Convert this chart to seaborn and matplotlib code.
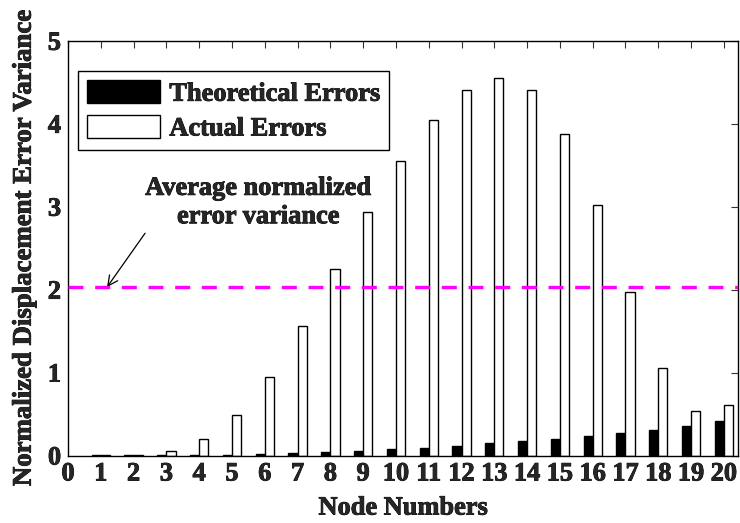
import matplotlib
matplotlib.use("Agg")
import matplotlib.pyplot as plt
import matplotlib.patheffects as pe
import seaborn as sns
import pandas as pd
from matplotlib.patches import Patch

nodes = list(range(1, 21))
theoretical = [0.002, 0.003, 0.005, 0.008, 0.01, 0.02, 0.03, 0.045, 0.06, 0.075,
               0.094, 0.12, 0.147, 0.17, 0.2, 0.23, 0.27, 0.31, 0.36, 0.42]
actual = [0.01, 0.01, 0.06, 0.2, 0.49, 0.95, 1.56, 2.25, 2.93, 3.55,
          4.05, 4.41, 4.55, 4.41, 3.88, 3.02, 1.97, 1.05, 0.54, 0.61]
avg_variance = 2.03
series_names = ["Theoretical Errors", "Actual Errors"]

df = pd.DataFrame({
    "node": nodes * 2,
    "value": theoretical + actual,
    "series": [series_names[0]] * len(nodes) + [series_names[1]] * len(nodes),
})

sns.set_style("white")
plt.rcParams["font.family"] = ["Liberation Serif", "DejaVu Serif"]
plt.rcParams["font.weight"] = "bold"

FS = 19
bold_fx = [pe.withStroke(linewidth=0.6, foreground="black")]

fig = plt.figure(figsize=(7.4, 5.23), dpi=100)
ax = fig.add_axes([0.0919, 0.129, 0.9058, 0.793])

sns.barplot(data=df, x="node", y="value", hue="series", native_scale=True,
            palette={series_names[0]: "black", series_names[1]: "white"},
            edgecolor="black", linewidth=1.0, width=0.56, ax=ax, legend=False,
            errorbar=None)

ax.axhline(avg_variance, color="#ff00ff", linestyle=(0, (4.5, 3.5)), linewidth=2.4, zorder=5)

ax.set_xlim(0, 20.44)
ax.set_ylim(0, 5)
ax.set_xticks(range(0, 21))
ax.set_xticklabels([str(i) for i in range(0, 21)])
ax.set_yticks(range(0, 6))

for sp in ax.spines.values():
    sp.set_color("black")
    sp.set_linewidth(1.0)
    sp.set_visible(True)

ax.tick_params(axis="both", which="both", direction="in", top=True, right=True,
               length=5, width=0.8, color="#333333", labelsize=FS, pad=5)
for lab in ax.get_xticklabels() + ax.get_yticklabels():
    lab.set_fontweight("bold")
    lab.set_path_effects(bold_fx)

ax.set_xlabel("Node Numbers", fontsize=FS, fontweight="bold", labelpad=8,
              path_effects=bold_fx)
ax.set_ylabel("Normalized Displacement Error Variance", fontsize=19.3, fontweight="bold",
              labelpad=8, path_effects=bold_fx)

handles = [Patch(facecolor="black", edgecolor="black", label=series_names[0]),
           Patch(facecolor="white", edgecolor="black", label=series_names[1])]
leg = ax.legend(handles=handles, loc="upper left", bbox_to_anchor=(0.015, 0.927),
                fancybox=False, framealpha=1, edgecolor="black",
                prop={"size": FS, "weight": "bold"}, handlelength=2.77,
                handleheight=0.95, borderpad=0.35, labelspacing=0.35,
                handletextpad=0.34, borderaxespad=0)
leg.get_frame().set_linewidth(1.0)
for t in leg.get_texts():
    t.set_path_effects(bold_fx)

ax.text(5.8, 3.05, "Average normalized\nerror variance", ha="center", va="center",
        fontsize=FS, fontweight="bold", linespacing=1.3, path_effects=bold_fx)
ax.annotate("", xy=(1.19, 2.03), xytext=(2.35, 2.68),
            arrowprops=dict(arrowstyle="->", color="black", lw=0.9,
                            shrinkA=0, shrinkB=0, mutation_scale=18))

fig.savefig("out.png", dpi=100)
